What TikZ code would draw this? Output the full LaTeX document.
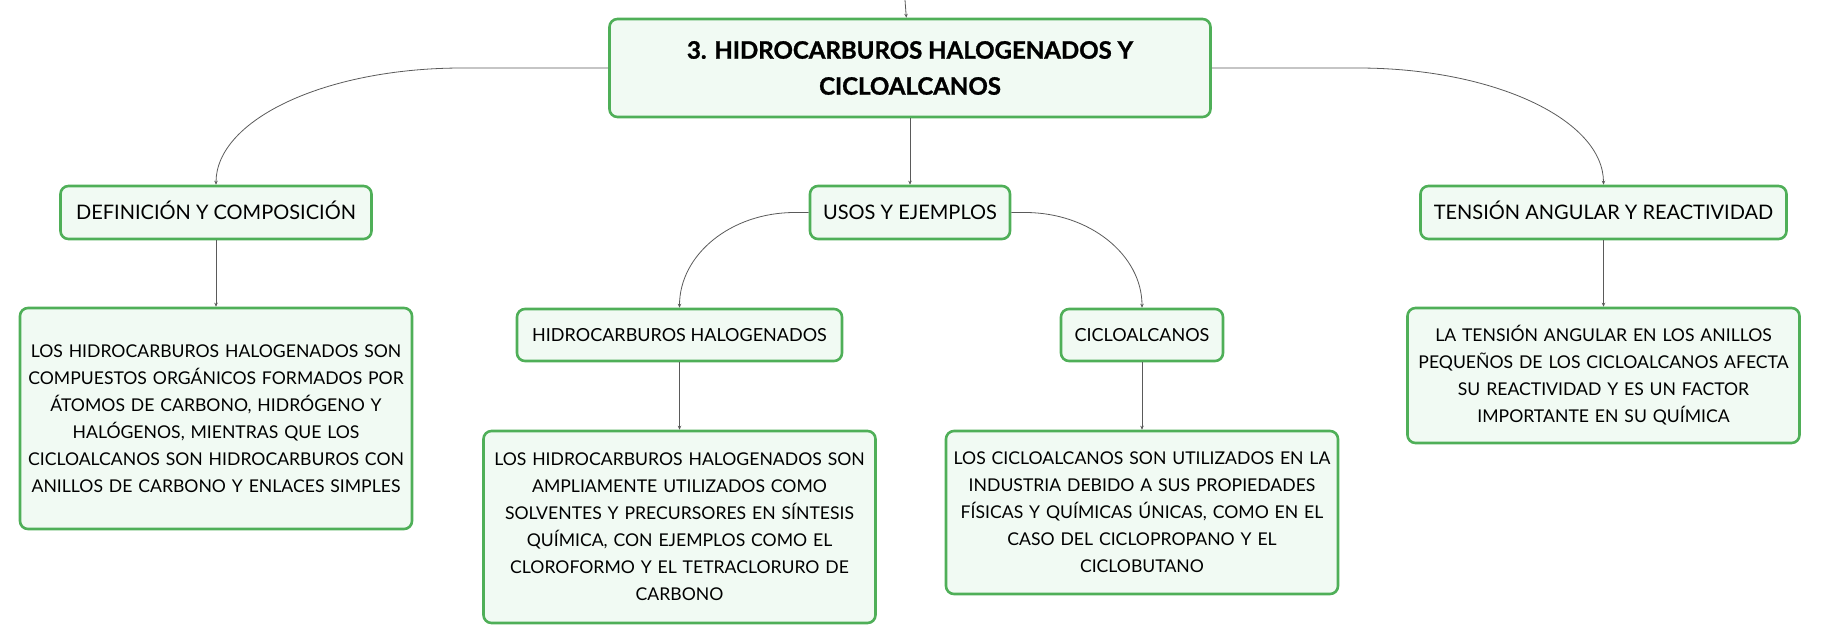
\documentclass[tikz,border=0pt]{standalone}
\usepackage{fontspec}
\setmainfont{Lato}
\usepackage{tikz}
\usetikzlibrary{arrows.meta}
\definecolor{gruen}{HTML}{4FAF58}
\definecolor{hellgruen}{HTML}{F1FAF3}
\definecolor{linie}{HTML}{5A5A5A}
\tikzstyle{kasten} = [rectangle, rounded corners=8pt, draw=gruen, line width=2.6pt, fill=hellgruen, text=black, align=center, inner sep=0pt]
\tikzstyle{haupt} = [kasten, font=\fontsize{24}{36}\selectfont\bfseries\addfontfeatures{FakeBold=1.2}, minimum width=601pt, minimum height=98pt]
\tikzstyle{thema} = [kasten, font=\fontsize{20}{27}\selectfont, text height=14.4pt, text depth=0pt, minimum height=53pt]
\tikzstyle{unterthema} = [kasten, font=\fontsize{18}{27}\selectfont, text height=13pt, text depth=0pt, minimum height=52pt]
\tikzstyle{erklaerung} = [kasten, font=\fontsize{17.6}{27}\selectfont, text width=392pt]

\begin{document}
\begin{tikzpicture}[->,>={Stealth[length=4pt,width=3.5pt]},x=1pt,y=1pt,color=linie,line width=0.8pt]
  \useasboundingbox (0,0) rectangle (1821,-643);
  \node[haupt] (Raiz) at (910,-68) {3. HIDROCARBUROS HALOGENADOS Y\\CICLOALCANOS};
  \node[thema, minimum width=200pt] (Usos) [node distance=144.5pt, below of=Raiz] {USOS Y EJEMPLOS};
  \node[thema, minimum width=311pt] (Definicion) [node distance=694pt, left of=Usos] {DEFINICIÓN Y COMPOSICIÓN};
  \node[thema, minimum width=366pt] (Tension) [node distance=693.5pt, right of=Usos] {TENSIÓN ANGULAR Y REACTIVIDAD};
  \node[erklaerung, minimum height=221pt] (Def_Text) [node distance=206pt, below of=Definicion] {LOS HIDROCARBUROS HALOGENADOS SON\\COMPUESTOS ORGÁNICOS FORMADOS POR\\ÁTOMOS DE CARBONO, HIDRÓGENO Y\\HALÓGENOS, MIENTRAS QUE LOS\\CICLOALCANOS SON HIDROCARBUROS CON\\ANILLOS DE CARBONO Y ENLACES SIMPLES};
  \node[unterthema, minimum width=325pt] (Halo) [node distance=122.5pt, below of=Usos, xshift=-230.5pt] {HIDROCARBUROS HALOGENADOS};
  \node[unterthema, minimum width=162pt] (Ciclo) [node distance=122.5pt, below of=Usos, xshift=232pt] {CICLOALCANOS};
  \node[erklaerung, minimum height=192pt] (Halo_Text) [node distance=192pt, below of=Halo] {LOS HIDROCARBUROS HALOGENADOS SON\\AMPLIAMENTE UTILIZADOS COMO\\SOLVENTES Y PRECURSORES EN SÍNTESIS\\QUÍMICA, CON EJEMPLOS COMO EL\\CLOROFORMO Y EL TETRACLORURO DE\\CARBONO};
  \node[erklaerung, minimum height=163pt] (Ciclo_Text) [node distance=177.5pt, below of=Ciclo] {LOS CICLOALCANOS SON UTILIZADOS EN LA\\INDUSTRIA DEBIDO A SUS PROPIEDADES\\FÍSICAS Y QUÍMICAS ÚNICAS, COMO EN EL\\CASO DEL CICLOPROPANO Y EL\\CICLOBUTANO};
  \node[erklaerung, minimum height=135pt] (Tension_Text) [node distance=163pt, below of=Tension] {LA TENSIÓN ANGULAR EN LOS ANILLOS\\PEQUEÑOS DE LOS CICLOALCANOS AFECTA\\SU REACTIVIDAD Y ES UN FACTOR\\IMPORTANTE EN SU QUÍMICA};
  \coordinate (Oben) at (905,0);

  \path (Oben) edge (Raiz);
  \path (Raiz) edge (Usos);
  \path (Definicion) edge (Def_Text);
  \path (Tension) edge (Tension_Text);
  \path (Halo) edge (Halo_Text);
  \path (Ciclo) edge (Ciclo_Text);
  \draw (Raiz.west) -- ++(-146,0) .. controls +(-137,0) and +(0,65) .. (Definicion.north);
  \draw (Raiz.east) -- ++(146,0) .. controls +(136,0) and +(0,65) .. (Tension.north);
  \draw (Usos.west) -- ++(-14,0) .. controls +(-64,0) and +(0,53) .. (Halo.north);
  \draw (Usos.east) -- ++(14,0) .. controls +(64,0) and +(0,53) .. (Ciclo.north);
\end{tikzpicture}
\end{document}
